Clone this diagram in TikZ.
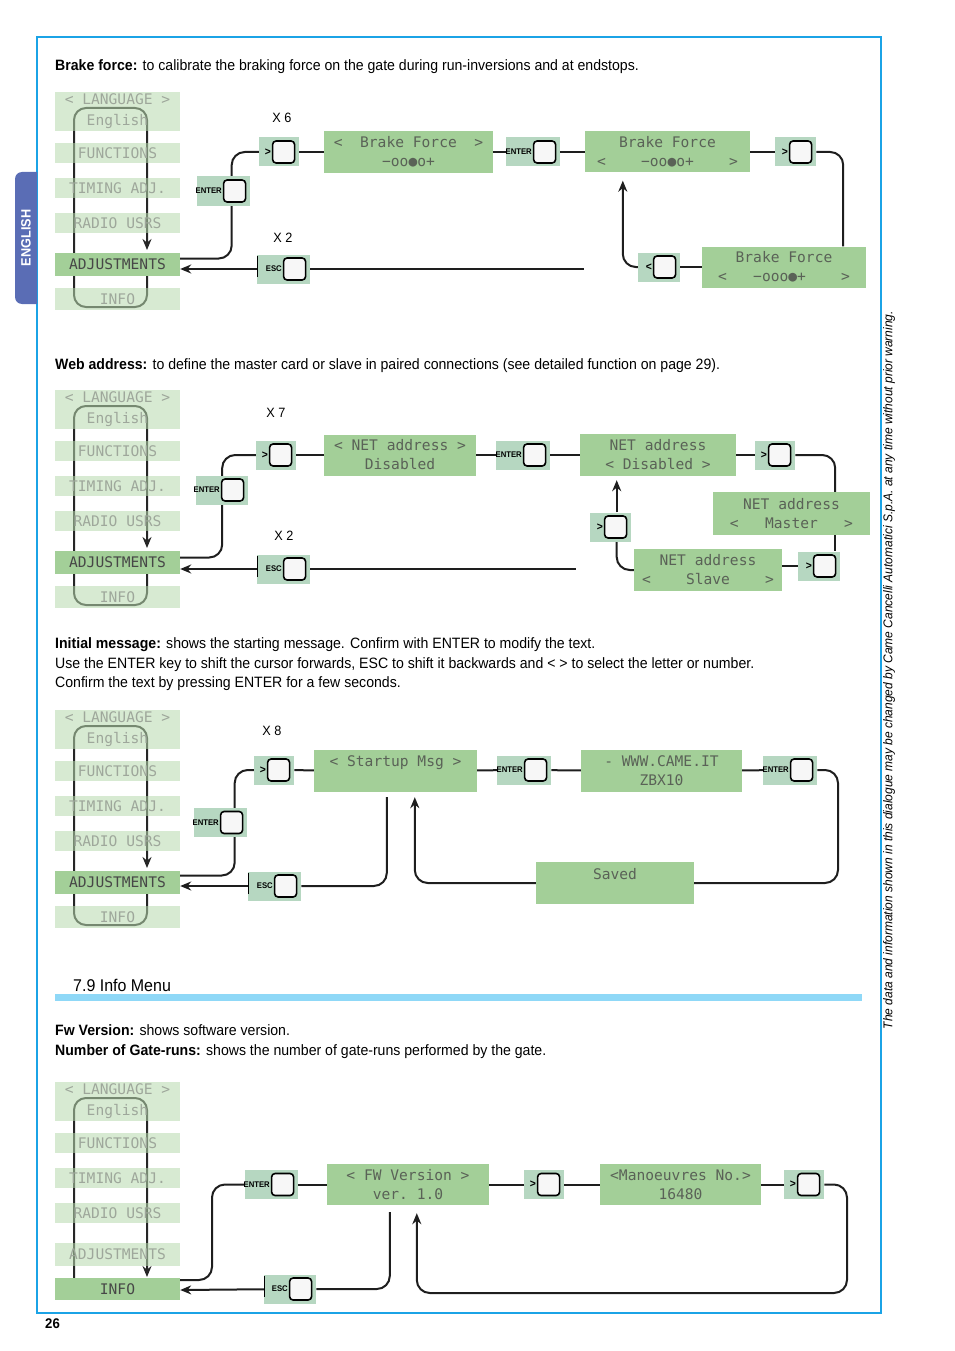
\documentclass[tikz,border=0pt]{standalone}
\usepackage{fontspec}
\setmainfont{Liberation Sans}[FakeStretch=0.94]
\newfontfamily\lcdfont{DejaVu Sans Mono}
\usetikzlibrary{arrows.meta,calc,backgrounds}
\definecolor{framecyan}{HTML}{1BA3E6}
\definecolor{tabblue}{HTML}{5A6DB5}
\definecolor{barblue}{HTML}{8FD8F7}
\definecolor{lcdgreen}{HTML}{A3CF98}
\definecolor{menugreen}{HTML}{B7D9AD}
\definecolor{keygreen}{HTML}{B6D7C1}
\definecolor{lcdtext}{HTML}{5A6257}
\definecolor{menutext}{HTML}{9EA79B}
\definecolor{linegray}{HTML}{1E1E1E}
\newcommand{\keybtn}[5]{% name, left x, centre y, width, label
  \node[keybg,minimum width=#4] (#1) at (#2,#3) {};
  \node[keysq,anchor=east] (#1-sq) at ([xshift=-4]#1.east) {};
  \node[keylbl,anchor=east] (#1-lb) at (#1-sq.west) {#5};}
\newcommand{\menucol}[4]{% prefix, top y, style of ADJUSTMENTS, style of INFO
  \node[menuoff,minimum height=39] (#1lang) at (117.5,#2+19.5) {<~LANGUAGE~>\\English};
  \node[menuoff,minimum height=20] (#1fun) at (117.5,#2+61) {FUNCTIONS};
  \node[menuoff,minimum height=20] (#1tim) at (117.5,#2+96) {TIMING~ADJ.};
  \node[menuoff,minimum height=20] (#1rad) at (117.5,#2+131) {RADIO~USRS};
  \node[#3,minimum height=23] (#1adj) at (117.5,#2+172.5) {ADJUSTMENTS};
  \node[#4,minimum height=22] (#1info) at (117.5,#2+207) {INFO};}
\newcommand{\arr}[1]{{\fontsize{11}{11}\selectfont #1}}
\tikzset{
  >={Stealth[length=11pt,width=9pt]},
  conn/.style={line width=2pt,draw=linegray,rounded corners=13pt},
  flow/.style={conn,->},
  lcd/.style={fill=lcdgreen,inner sep=0pt,align=center,text=lcdtext,
    font=\lcdfont\fontsize{14.6}{19}\selectfont},
  menuoff/.style={fill=menugreen,fill opacity=0.55,text opacity=1,inner sep=0pt,
    minimum width=125,align=center,text=menutext,
    font=\lcdfont\fontsize{14.6}{21}\selectfont},
  menuon/.style={menuoff,fill=lcdgreen,fill opacity=1,text=black!72},
  menuloop/.style={line width=2pt,draw=black!85,rounded corners=12pt,->},
  keybg/.style={fill=keygreen,minimum height=29,inner sep=0pt,anchor=west},
  keysq/.style={draw=black,fill=gray!6,line width=1.6pt,rounded corners=3.5pt,
    minimum width=22,minimum height=22,inner sep=0pt},
  keylbl/.style={font=\bfseries\fontsize{8.2}{9}\selectfont,inner sep=0.8pt},
  bodytxt/.style={anchor=base west,inner sep=0pt,font=\fontsize{15}{18}\selectfont},
  xcount/.style={font=\fontsize{13.5}{16}\selectfont,inner sep=0pt},
}
\begin{document}
\begin{tikzpicture}[x=1pt,y=-1pt]
\useasboundingbox (0,0) rectangle (954,1351);
% page frame, tab and side note
\draw[framecyan,line width=1.4pt] (37,37) rectangle (881,1313);
\fill[tabblue] (37,304) -- (37,172) [rounded corners=7] -- (15,172) -- (15,304) [sharp corners] -- cycle;
\node[rotate=90,text=white,font=\bfseries\fontsize{13.5}{14}\selectfont] (tab) at (26,238) {ENGLISH};
\node[rotate=90,font=\itshape\fontsize{12.75}{14}\selectfont] (note) at (889,670)
  {The data and information shown in this dialogue may be changed by Came Cancelli Automatici S.p.A. at any time without prior warning.};
\node[bodytxt,font=\bfseries\fontsize{14}{17}\selectfont] (pg) at (45,1328) {26};

% texts
\node[bodytxt] (t-brake) at (55,71) {\textbf{Brake force:} to calibrate the braking force on the gate during run-inversions and at endstops.};
\node[bodytxt] (t-web) at (55,369) {\textbf{Web address:} to define the master card or slave in paired connections (see detailed function on page 29).};
\node[bodytxt] (t-init1) at (55,648) {\textbf{Initial message:} shows the starting message. Confirm with ENTER to modify the text.};
\node[bodytxt] (t-init2) at (55,668) {Use the ENTER key to shift the cursor forwards, ESC to shift it backwards and < > to select the letter or number.};
\node[bodytxt] (t-init3) at (55,687) {Confirm the text by pressing ENTER for a few seconds.};
\node[bodytxt,font=\fontsize{17}{20}\selectfont] (h79) at (73,991) {7.9 Info Menu};
\fill[barblue] (55,994) rectangle (862,1001);
\node[bodytxt] (t-fw) at (55,1035) {\textbf{Fw Version:} shows software version.};
\node[bodytxt] (t-runs) at (55,1055) {\textbf{Number of Gate-runs:} shows the number of gate-runs performed by the gate.};

% menus
\menucol{a}{92}{menuon}{menuoff}
\menucol{b}{390}{menuon}{menuoff}
\menucol{c}{710}{menuon}{menuoff}
\menucol{d}{1082}{menuoff}{menuon}

% brake force
\keybtn{ak1}{259}{152}{40}{\arr{>}}
\keybtn{aent}{197}{191}{53}{ENTER}
\node[lcd,minimum width=169,minimum height=42] (abf1) at (408.5,152) {<~~Brake~Force~~>\\−oo●o+};
\keybtn{aent2}{506}{152}{54}{ENTER}
\node[lcd,minimum width=165,minimum height=41] (abf2) at (667.5,152) {Brake~Force\\<~~~~−oo●o+~~~~>};
\keybtn{ak2}{775}{152}{41}{\arr{>}}
\node[lcd,minimum width=164,minimum height=41] (abf3) at (784,267) {Brake~Force\\<~~~−ooo●+~~~~>};
\keybtn{akl}{638}{267}{42}{\arr{<}}
\keybtn{aesc}{257}{269}{53}{ESC}
\draw[line width=0.8pt] ([yshift=-2]aesc.north west) -- ([yshift=7]aesc.south west);
\coordinate (a-escend) at (584,269);
\node[xcount] (ax6) at (282,118) {X 6};
\node[xcount] (ax2) at (283,238) {X 2};

% web address
\keybtn{bk1}{256}{455}{40}{\arr{>}}
\keybtn{bent}{196}{490}{52}{ENTER}
\node[lcd,minimum width=152,minimum height=41] (bnd1) at (400,455) {<~NET~address~>\\Disabled};
\keybtn{bent2}{496}{455}{54}{ENTER}
\node[lcd,minimum width=156,minimum height=42] (bnd2) at (658,455) {NET~address\\<~Disabled~>};
\keybtn{bk2}{755}{455}{40}{\arr{>}}
\node[lcd,minimum width=157,minimum height=43] (bnm) at (791.5,513.5) {NET~address\\<~~~Master~~~>};
\keybtn{bk3}{798}{566}{42}{\arr{>}}
\node[lcd,minimum width=148,minimum height=42] (bns) at (708,570) {NET~address\\<~~~~Slave~~~~>};
\keybtn{bk4}{590}{527}{41}{\arr{>}}
\keybtn{besc}{257}{569}{53}{ESC}
\draw[line width=0.8pt] ([yshift=-2]besc.north west) -- ([yshift=7]besc.south west);
\coordinate (b-escend) at (576,569);
\coordinate (b-mr) at ([xshift=-35]bnm.south east);
\coordinate (b-up) at ([xshift=6]bk4.north);
\node[xcount] (bx7) at (276,413) {X 7};
\node[xcount] (bx2) at (284,536) {X 2};

% initial message
\keybtn{ck1}{254}{770}{40}{\arr{>}}
\keybtn{cent}{194}{822.5}{53}{ENTER}
\node[lcd,minimum width=163,minimum height=42] (cst) at (395.5,771) {<~Startup~Msg~>\\~};
\keybtn{cent2}{497}{770}{54}{ENTER}
\node[lcd,minimum width=161,minimum height=42] (cwww) at (661.5,771) {-~WWW.CAME.IT\\ZBX10};
\keybtn{cent3}{763}{770}{54}{ENTER}
\node[lcd,minimum width=158,minimum height=42] (csav) at (615,883) {Saved\\~};
\keybtn{cesc}{248}{886}{53}{ESC}
\draw[line width=0.8pt] ([yshift=-2]cesc.north west) -- ([yshift=7]cesc.south west);
\coordinate (c-rt) at (838,830);
\node[xcount] (cx8) at (272,731) {X 8};

% info menu
\keybtn{dent}{245}{1184.5}{53}{ENTER}
\node[lcd,minimum width=162,minimum height=41] (dfw) at (408,1184.5) {<~FW~Version~>\\ver.~1.0};
\keybtn{dk1}{524}{1184.5}{40}{\arr{>}}
\node[lcd,minimum width=161,minimum height=41] (dman) at (680.5,1184.5) {<Manoeuvres~No.>\\16480};
\keybtn{dk2}{784}{1184.5}{40}{\arr{>}}
\keybtn{desc}{264}{1289}{52}{ESC}
\draw[line width=0.8pt] ([yshift=-2]desc.north west) -- ([yshift=7]desc.south west);
\coordinate (d-lf) at (212,1230);
\coordinate (d-rt) at (847,1293);

\begin{scope}[on background layer]
  % menu loops
  \draw[menuloop] (147,257) -- (147,307) -- (74,307) -- (74,108) -- (147,108) -- (147,250);
  \draw[menuloop] (147,555) -- (147,605) -- (74,605) -- (74,406) -- (147,406) -- (147,548);
  \draw[menuloop] (147,875) -- (147,925) -- (74,925) -- (74,726) -- (147,726) -- (147,868);
  \draw[menuloop] (74,1284) -- (74,1098) -- (147,1098) -- (147,1277);
  % brake force
  \draw[conn] ([yshift=6]aadj.east) -| ([xshift=8]aent.center) |- (ak1);
  \draw[conn] (ak1) -- (abf1);
  \draw[conn] (abf1) -- (aent2);
  \draw[conn] (aent2) -- (abf2);
  \draw[conn] (abf2) -- (ak2);
  \draw[conn] (ak2) -| ([xshift=-23]abf3.north east);
  \draw[conn] (abf3) -- (akl);
  \draw[flow,shorten >=8pt] (akl) -| ([xshift=38]abf2.south west);
  \draw[conn] (aesc) -- (a-escend);
  \draw[flow] (aesc) -- ([yshift=-4.5]aadj.east);
  % web address
  \draw[conn] ([yshift=5]badj.east) -| (bent.center) |- (bk1);
  \draw[conn] (bk1) -- (bnd1);
  \draw[conn] (bnd1) -- (bent2);
  \draw[conn] (bent2) -- (bnd2);
  \draw[conn] (bnd2) -- (bk2);
  \draw[conn] (bk2) -| ([xshift=-35]bnm.north east);
  \draw[conn] (b-mr) -- (b-mr |- bk3.north);
  \draw[conn] (bk3) -- (bk3 -| bns.east);
  \draw[conn] (bns) -| ([xshift=6]bk4.south);
  \draw[flow,shorten >=4pt] (b-up) -- (b-up |- bnd2.south);
  \draw[conn] (besc) -- (b-escend);
  \draw[flow] (besc) -- ([yshift=-6.5]badj.east);
  % initial message
  \draw[conn] ([yshift=7]cadj.east) -| ([xshift=14]cent.center) |- (ck1);
  \draw[conn] (ck1) -- (cst);
  \draw[conn] (cst) -- (cent2);
  \draw[conn] (cent2) -- (cwww);
  \draw[conn] (cwww) -- (cent3);
  \draw[conn] (cent3) -| (c-rt) |- (csav);
  \draw[flow,shorten >=5pt] (csav) -| ([xshift=101]cst.south west);
  \draw[conn,shorten >=5pt] (cesc) -| ([xshift=73]cst.south west);
  \draw[flow] (cesc) -- ([yshift=-3.5]cadj.east);
  % info menu
  \draw[conn] ([yshift=9]dinfo.east) -| (d-lf) |- (dent);
  \draw[conn] (dent) -- (dfw);
  \draw[conn] (dfw) -- (dk1);
  \draw[conn] (dk1) -- (dman);
  \draw[conn] (dman) -- (dk2);
  \draw[flow,shorten >=8pt] (dk2) -| (d-rt) -| ([xshift=90]dfw.south west);
  \draw[conn,shorten >=7pt] (desc) -| ([xshift=63]dfw.south west);
  \draw[flow] (desc) -- ([yshift=-1]dinfo.east);
\end{scope}
\end{tikzpicture}
\end{document}
